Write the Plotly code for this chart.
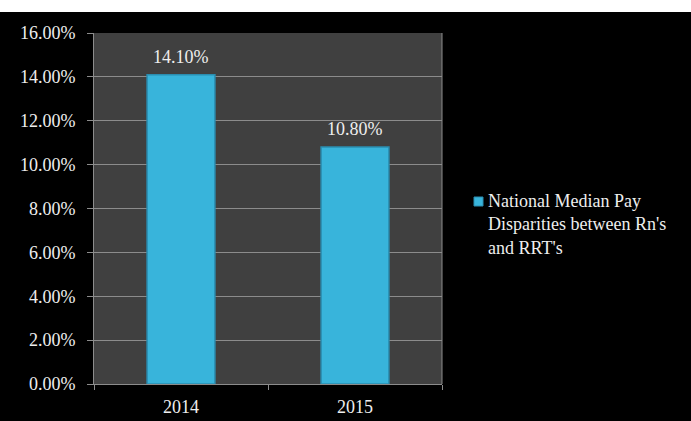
import plotly.graph_objects as go

# Pay disparity data
years = ["2014", "2015"]
disparity_pct = [14.10, 10.80]
series_name = "National Median Pay<br>Disparities between Rn's<br>and RRT's"
y_ticks = [0, 2, 4, 6, 8, 10, 12, 14, 16]
y_tick_labels = [f"{v:.2f}%" for v in y_ticks]

SERIF = "Liberation Serif, Times New Roman, serif"
TEXT = "#eeeeee"
GRID = "#8c8c8c"
BAR = "#38b4db"

# plot area in pixels, used to place the hand-drawn legend
L, R, T, B = 94, 249, 33, 37
W, H = 691, 421
PW, PH = W - L - R, H - T - B


def px_x(x):
    return (x - L) / PW


def px_y(y):
    return (H - B - y) / PH


fig = go.Figure()
fig.add_trace(go.Bar(
    x=years,
    y=disparity_pct,
    name=series_name,
    width=0.39,
    marker=dict(color=BAR, line=dict(color="#2a8db0", width=1.5)),
    showlegend=False,
))

# value labels above the bars (category index positions)
annotations = [
    dict(x=i, y=v, xref="x", yref="y", text=f"{v:.2f}%",
         showarrow=False, yanchor="bottom", yshift=6,
         font=dict(family=SERIF, size=18, color=TEXT))
    for i, v in enumerate(disparity_pct)
]
# legend text
annotations.append(dict(
    x=px_x(486), y=px_y(189), xref="paper", yref="paper",
    xanchor="left", yanchor="top", align="left", showarrow=False,
    text=series_name, font=dict(family=SERIF, size=18, color=TEXT),
))

fig.update_layout(
    width=W,
    height=H,
    margin=dict(l=L, r=R, t=T, b=B),
    paper_bgcolor="black",
    plot_bgcolor="#404040",
    font=dict(family=SERIF, size=18, color=TEXT),
    showlegend=False,
    annotations=annotations,
    xaxis=dict(
        type="category",
        range=[-0.5, len(years) - 0.5],
        automargin=False,
        showgrid=False,
        showline=True,
        linecolor=GRID,
        linewidth=1,
        ticks="outside",
        tickson="boundaries",
        ticklen=5,
        tickcolor=GRID,
        ticklabelstandoff=6,
        tickangle=0,
        tickfont=dict(family=SERIF, size=18, color=TEXT),
    ),
    yaxis=dict(
        range=[0, 16],
        automargin=False,
        tickvals=y_ticks,
        ticktext=y_tick_labels,
        showgrid=True,
        gridcolor=GRID,
        gridwidth=1,
        showline=True,
        linecolor=GRID,
        linewidth=1,
        ticks="outside",
        ticklen=6,
        tickcolor=GRID,
        ticklabelstandoff=8,
        tickfont=dict(family=SERIF, size=18, color=TEXT),
        zeroline=False,
    ),
    shapes=[
        # white band above the dark chart area
        dict(type="rect", xref="paper", yref="paper",
             x0=-0.3, x1=1.75, y0=px_y(12), y1=px_y(-20),
             fillcolor="white", line=dict(width=0), layer="above"),
        # right edge of the plot area
        dict(type="line", xref="paper", yref="paper",
             x0=1, x1=1, y0=0, y1=1,
             line=dict(color=GRID, width=1)),
        # legend swatch
        dict(type="rect", xref="paper", yref="paper",
             x0=px_x(474), x1=px_x(483), y0=px_y(206), y1=px_y(197),
             fillcolor=BAR, line=dict(color="#2a8db0", width=1)),
    ],
)

fig.write_html("out.html")
